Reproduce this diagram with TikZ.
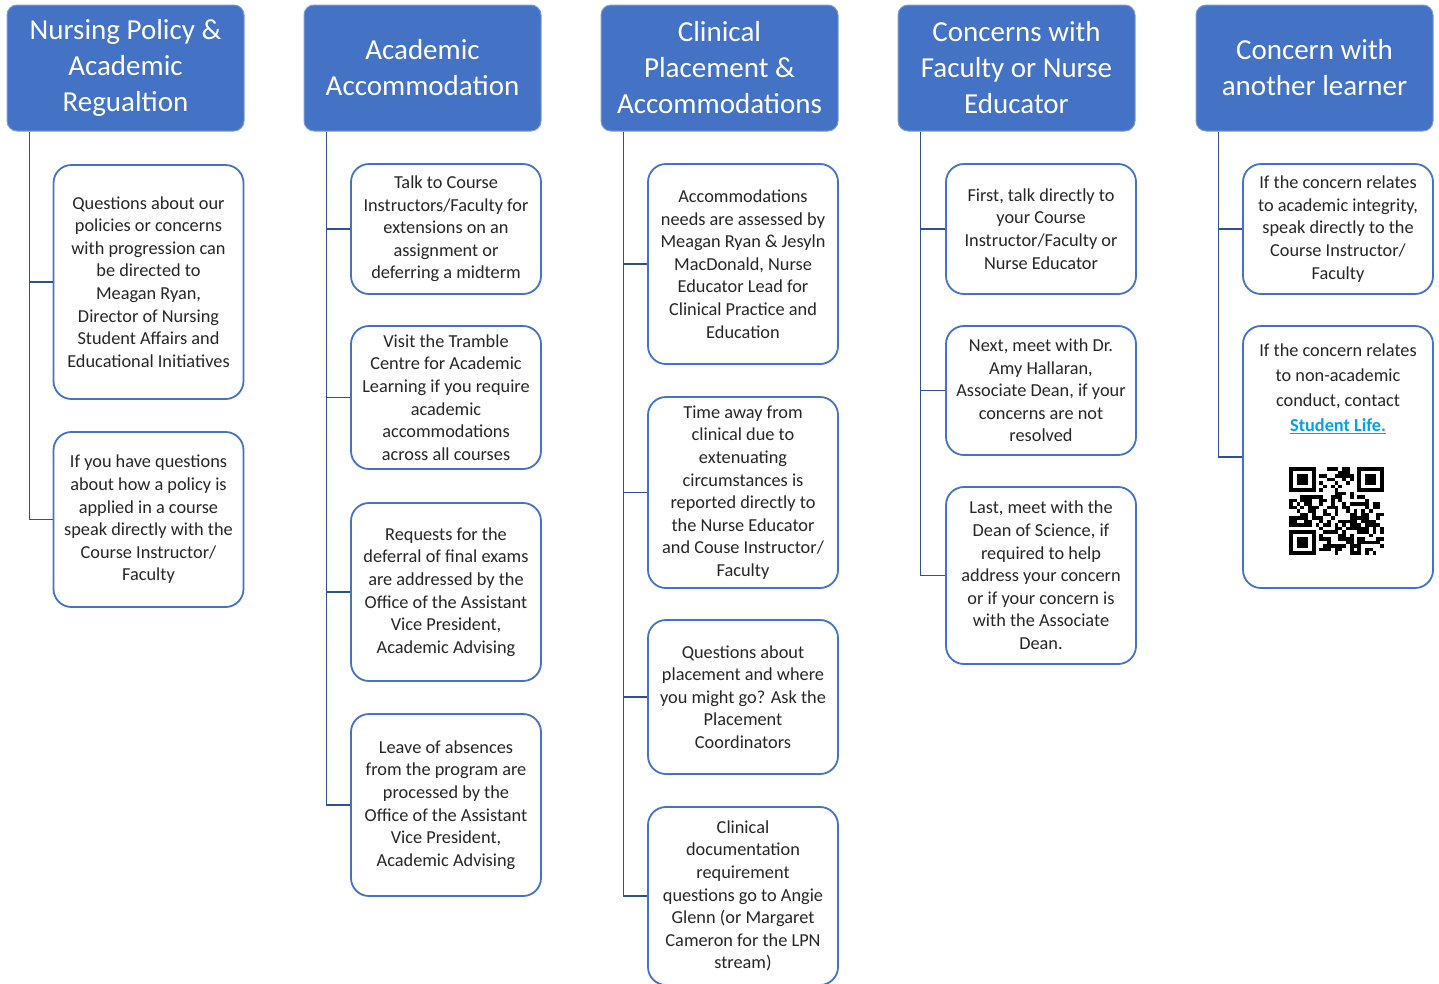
\documentclass[tikz,border=0pt]{standalone}
\usepackage{fontspec}
\setmainfont{Carlito}
\definecolor{hdr}{HTML}{4472C4}
\definecolor{brd}{HTML}{4472C4}
\definecolor{connc}{HTML}{2F528F}
\definecolor{txt}{HTML}{262626}
\definecolor{lnk}{HTML}{00A2E8}
\begin{document}
\begin{tikzpicture}[x=1pt,y=-1pt,
 hdrbox/.style={draw=hdr!70!white, line width=1pt, fill=hdr, rounded corners=10pt, minimum width=237pt, minimum height=126pt, inner sep=0pt, align=center, text=white, font=\fontsize{29}{36}\selectfont},
 cbox/.style={draw=brd, line width=1.8pt, fill=white, rounded corners=18pt, minimum width=190pt, inner sep=0pt, align=center, text=txt, font=\fontsize{18.3}{22.6}\selectfont},
 connline/.style={draw=connc, line width=1.8pt}]
\useasboundingbox (0,0) rectangle (1439,983);

% headers
\node[hdrbox] (h1) at (125.5,68) {Nursing Policy \&\\Academic\\Regualtion};
\node[hdrbox] (h2) at (422.5,68) {Academic\\Accommodation};
\node[hdrbox] (h3) at (719.5,68) {Clinical\\Placement \&\\Accommodations};
\node[hdrbox] (h4) at (1016.5,68) {Concerns with\\Faculty or Nurse\\Educator};
\node[hdrbox] (h5) at (1314.5,68) {Concern with\\another learner};

\coordinate (s1) at ([xshift=23pt]h1.south west);
\coordinate (s2) at ([xshift=23pt]h2.south west);
\coordinate (s3) at ([xshift=23pt]h3.south west);
\coordinate (s4) at ([xshift=23pt]h4.south west);
\coordinate (s5) at ([xshift=23pt]h5.south west);

% column 1
\node[cbox, minimum height=234pt] (c1b1) at (148.5,282) {Questions about our\\policies or concerns\\with progression can\\be directed to\\Meagan Ryan,\\Director of Nursing\\Student Affairs and\\Educational Initiatives};
\node[cbox, minimum height=175pt] (c1b2) at (148.5,519.5) {If you have questions\\about how a policy is\\applied in a course\\speak directly with the\\Course Instructor/\\Faculty};

% column 2
\node[cbox, minimum height=130pt] (c2b1) at (446,229) {Talk to Course\\Instructors/Faculty for\\extensions on an\\assignment or\\deferring a midterm};
\node[cbox, minimum height=143pt] (c2b2) at (446,397.5) {Visit the Tramble\\Centre for Academic\\Learning if you require\\academic\\accommodations\\across all courses};
\node[cbox, minimum height=178pt] (c2b3) at (446,592) {Requests for the\\deferral of final exams\\are addressed by the\\Office of the Assistant\\Vice President,\\Academic Advising};
\node[cbox, minimum height=182pt] (c2b4) at (446,805) {Leave of absences\\from the program are\\processed by the\\Office of the Assistant\\Vice President,\\Academic Advising};

% column 3
\node[cbox, minimum height=200pt] (c3b1) at (743,264) {Accommodations\\needs are assessed by\\Meagan Ryan \& Jesyln\\MacDonald, Nurse\\Educator Lead for\\Clinical Practice and\\Education};
\node[cbox, minimum height=191pt] (c3b2) at (743,492.5) {Time away from\\clinical due to\\extenuating\\circumstances is\\reported directly to\\the Nurse Educator\\and Couse Instructor/\\Faculty};
\node[cbox, minimum height=154pt] (c3b3) at (743,697) {Questions about\\placement and where\\you might go? Ask the\\Placement\\Coordinators};
\node[cbox, minimum height=178pt] (c3b4) at (743,896) {Clinical\\documentation\\requirement\\questions go to Angie\\Glenn (or Margaret\\Cameron for the LPN\\stream)};

% column 4
\node[cbox, minimum height=130pt] (c4b1) at (1041,229) {First, talk directly to\\your Course\\Instructor/Faculty or\\Nurse Educator};
\node[cbox, minimum height=129pt] (c4b2) at (1041,390.5) {Next, meet with Dr.\\Amy Hallaran,\\Associate Dean, if your\\concerns are not\\resolved};
\node[cbox, minimum height=177pt] (c4b3) at (1041,575.5) {Last, meet with the\\Dean of Science, if\\required to help\\address your concern\\or if your concern is\\with the Associate\\Dean.};

% column 5
\node[cbox, minimum height=130pt] (c5b1) at (1338,229) {If the concern relates\\to academic integrity,\\speak directly to the\\Course Instructor/\\Faculty};
\node[cbox, minimum height=262pt] (c5b2) at (1338,457) {};
\node[align=center, text=txt, inner sep=0pt, font=\fontsize{18.3}{25}\selectfont] (c5b2t) at (1338,389) {If the concern relates\\to non-academic\\conduct, contact\\{\color{lnk}\underline{\textbf{Student Life.}}}};

% QR code
\def\qw{3.8}\def\qh{3.52}
\def\qx{1289}\def\qy{467}
\pgfmathsetseed{4711}
\foreach \i in {0,...,24}{
  \foreach \j in {0,...,24}{
    \pgfmathrandominteger{\r}{0}{1}
    \pgfmathtruncatemacro\v{((\i<8 && \j<8) || (\i>16 && \j<8) || (\i<8 && \j>16)) ? 0 : \r}
    \ifnum\v=1
      \fill[black] (\qx+\i*\qw,\qy+\j*\qh) rectangle ++(\qw,\qh);
    \fi
  }
}
\foreach \ox/\oy in {0/0,18/0,0/18}{
  \fill[black] (\qx+\ox*\qw,\qy+\oy*\qh) rectangle ++(7*\qw,7*\qh);
  \fill[white] (\qx+\ox*\qw+\qw,\qy+\oy*\qh+\qh) rectangle ++(5*\qw,5*\qh);
  \fill[black] (\qx+\ox*\qw+2*\qw,\qy+\oy*\qh+2*\qh) rectangle ++(3*\qw,3*\qh);
}

% connectors
\draw[connline] (s1) |- (c1b1.west);
\draw[connline] (s1) |- (c1b2.west);
\draw[connline] (s2) |- (c2b1.west);
\draw[connline] (s2) |- (c2b2.west);
\draw[connline] (s2) |- (c2b3.west);
\draw[connline] (s2) |- (c2b4.west);
\draw[connline] (s3) |- (c3b1.west);
\draw[connline] (s3) |- (c3b2.west);
\draw[connline] (s3) |- (c3b3.west);
\draw[connline] (s3) |- (c3b4.west);
\draw[connline] (s4) |- (c4b1.west);
\draw[connline] (s4) |- (c4b2.west);
\draw[connline] (s4) |- (c4b3.west);
\draw[connline] (s5) |- (c5b1.west);
\draw[connline] (s5) |- (c5b2.west);
\end{tikzpicture}
\end{document}
